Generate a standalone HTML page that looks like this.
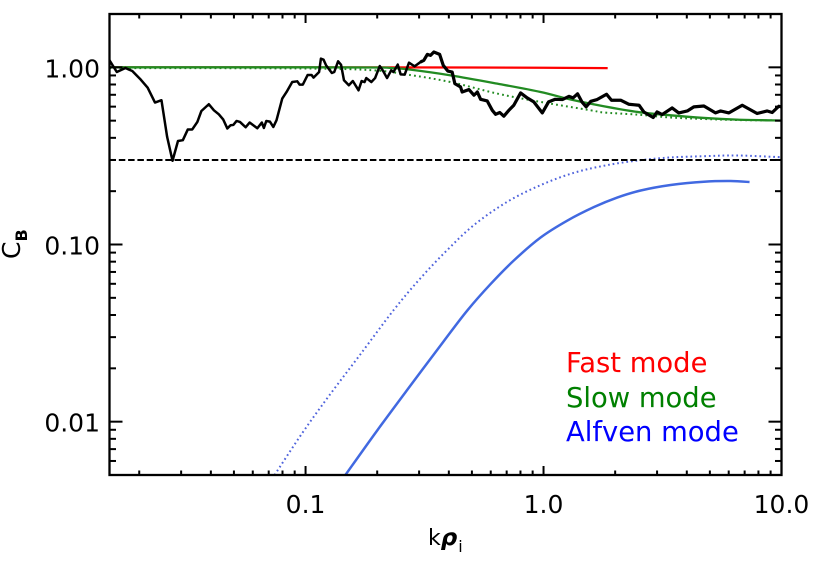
<!DOCTYPE html>
<html>
<head>
<meta charset="utf-8">
<title>C_B versus k rho_i</title>
<style>
html,body{margin:0;padding:0;background:#fff;width:830px;height:562px;overflow:hidden}
svg{display:block}
text{font-family:"DejaVu Sans","Liberation Sans",sans-serif;fill:#000}
</style>
</head>
<body>
<svg id="chart" width="830" height="562" viewBox="0 0 830 562" xmlns="http://www.w3.org/2000/svg">
<defs><clipPath id="plot-clip"><rect x="109.5" y="14" width="672" height="461"/></clipPath></defs>
<g id="series" clip-path="url(#plot-clip)"></g>
<g id="ticks"></g>
<rect x="109.5" y="14" width="672" height="461" fill="none" stroke="#000" stroke-width="2.3"/>
<g id="labels"></g>
<text x="428" y="545" font-size="22">k<tspan font-size="23" font-weight="bold" font-style="italic">ρ</tspan><tspan font-size="16" dy="7" dx="1">i</tspan></text>
<text transform="translate(20,259) rotate(-90)" font-size="25">C<tspan font-size="16" font-weight="bold" dy="7">B</tspan></text>
<text x="566" y="372" font-size="27.4" style="fill:#ff0000">Fast mode</text>
<text x="566" y="407" font-size="27.4" style="fill:#008000">Slow mode</text>
<text x="566" y="441" font-size="27.4" style="fill:#0000ff">Alfven mode</text>
</svg>
<script>
const xDomain = [0.015, 10];
const yDomain = [0.005, 2];
const xMajorTicks = [0.1, 1, 10];
const xMinorTicks = [0.02,0.03,0.04,0.05,0.06,0.07,0.08,0.09,0.2,0.3,0.4,0.5,0.6,0.7,0.8,0.9,2,3,4,5,6,7,8,9];
const yMajorTicks = [0.01, 0.1, 1];
const yMinorTicks = [0.006,0.007,0.008,0.009,0.02,0.03,0.04,0.05,0.06,0.07,0.08,0.09,0.2,0.3,0.4,0.5,0.6,0.7,0.8,0.9];
const xTickLabels = ["0.1", "1.0", "10.0"];
const yTickLabels = ["0.01", "0.10", "1.00"];
const thresholdValue = 0.3;

const measuredK = [0.015,0.0161,0.0175,0.0187,0.0203,0.0217,0.0233,0.0248,0.0262,0.0276,0.0291,0.0305,0.032,0.0334,0.0351,0.0365,0.0392,0.0412,0.0432,0.0451,0.0469,0.0484,0.0497,0.0513,0.053,0.056,0.0582,0.0603,0.0627,0.0655,0.0668,0.0684,0.0708,0.0732,0.0755,0.0798,0.0832,0.0879,0.0923,0.0944,0.0974,0.102,0.106,0.108,0.114,0.116,0.119,0.122,0.129,0.132,0.137,0.141,0.145,0.152,0.158,0.167,0.172,0.177,0.18,0.189,0.196,0.205,0.211,0.22,0.229,0.234,0.244,0.251,0.261,0.272,0.287,0.304,0.314,0.325,0.335,0.346,0.366,0.379,0.396,0.413,0.424,0.448,0.455,0.486,0.51,0.527,0.544,0.58,0.609,0.629,0.655,0.681,0.715,0.75,0.801,0.854,0.91,0.988,1.05,1.12,1.2,1.28,1.33,1.39,1.45,1.51,1.58,1.68,1.84,1.93,2.11,2.28,2.52,2.64,2.89,3.0,3.15,3.47,3.7,4.02,4.28,4.72,5.28,5.54,6.01,6.84,7.9,8.71,9.14,9.74,10];
const measuredC = [1.095,0.941,0.991,0.953,0.852,0.768,0.633,0.652,0.405,0.297,0.384,0.388,0.446,0.446,0.492,0.567,0.619,0.572,0.543,0.507,0.452,0.471,0.473,0.498,0.492,0.459,0.488,0.471,0.453,0.488,0.455,0.498,0.494,0.461,0.503,0.666,0.726,0.826,0.834,0.799,0.799,0.905,0.905,0.875,0.941,1.12,1.105,1.026,0.929,0.941,1.081,1.033,0.845,0.792,0.837,0.742,0.837,0.826,0.87,0.826,0.87,1.017,0.962,0.87,0.962,0.941,1.036,0.913,0.91,1.063,1.013,1.071,1.095,1.184,1.168,1.22,1.184,1.026,0.953,0.941,0.809,0.775,0.726,0.749,0.696,0.726,0.66,0.646,0.572,0.543,0.556,0.53,0.572,0.611,0.717,0.672,0.638,0.553,0.638,0.66,0.658,0.686,0.672,0.709,0.638,0.599,0.643,0.658,0.705,0.652,0.652,0.619,0.611,0.56,0.521,0.56,0.541,0.59,0.553,0.567,0.598,0.605,0.553,0.567,0.553,0.611,0.549,0.567,0.556,0.603,0.598];

const fastK = [0.015,0.1,0.5,1,1.86];
const fastC = [1.0,1.0,0.998,0.995,0.99];

const slowK = [0.015,0.1,0.2,0.232,0.268,0.407,0.639,0.972,1.3,1.79,2.48,3.42,4.72,6.52,10];
const slowC = [1.0,1.0,0.998,0.99,0.975,0.901,0.809,0.726,0.658,0.603,0.56,0.536,0.518,0.507,0.501];

const slowDottedK = [0.015,0.1,0.193,0.268,0.407,0.639,0.972,1.58,1.79,2.48,3.42,4.72,6.52,10];
const slowDottedC = [0.991,0.985,0.962,0.91,0.826,0.711,0.638,0.572,0.556,0.541,0.521,0.511,0.504,0.501];

const alfvenK = [0.147,0.2,0.276,0.381,0.478,0.599,0.75,0.972,1.26,1.63,2.04,2.56,3.42,4.72,6.11,7.34];
const alfvenC = [0.005,0.00892,0.016,0.0285,0.0424,0.0598,0.0812,0.1095,0.1365,0.1627,0.1841,0.2017,0.2166,0.2261,0.2281,0.2252];

const alfvenDottedK = [0.0741,0.0969,0.125,0.17,0.235,0.304,0.394,0.51,0.704,0.972,1.34,1.85,2.56,3.42,4.72,6.52,10];
const alfvenDottedC = [0.005,0.00863,0.0139,0.0240,0.0428,0.0645,0.0931,0.1288,0.1742,0.2164,0.2538,0.2805,0.2993,0.31,0.315,0.318,0.311];

const NS = 'http://www.w3.org/2000/svg';
const plotLeft = 109.5, plotRight = 781.5, plotTop = 14, plotBottom = 475;
function xPos(v){
  return plotLeft + (Math.log10(v) - Math.log10(xDomain[0])) / (Math.log10(xDomain[1]) - Math.log10(xDomain[0])) * (plotRight - plotLeft);
}
function yPos(v){
  return plotBottom - (Math.log10(v) - Math.log10(yDomain[0])) / (Math.log10(yDomain[1]) - Math.log10(yDomain[0])) * (plotBottom - plotTop);
}
function smoothPath(xs, ys){
  const p = xs.map((x, i) => [xPos(x), yPos(ys[i])]);
  let d = 'M' + p[0][0].toFixed(2) + ' ' + p[0][1].toFixed(2);
  for (let i = 0; i < p.length - 1; i++) {
    const a = p[Math.max(i - 1, 0)], b = p[i], c = p[i + 1], e = p[Math.min(i + 2, p.length - 1)];
    const c1x = b[0] + (c[0] - a[0]) / 6, c1y = b[1] + (c[1] - a[1]) / 6;
    const c2x = c[0] - (e[0] - b[0]) / 6, c2y = c[1] - (e[1] - b[1]) / 6;
    d += 'C' + c1x.toFixed(2) + ' ' + c1y.toFixed(2) + ' ' + c2x.toFixed(2) + ' ' + c2y.toFixed(2) + ' ' + c[0].toFixed(2) + ' ' + c[1].toFixed(2);
  }
  return d;
}
function polyPath(xs, ys){
  return xs.map((x, i) => (i ? 'L' : 'M') + xPos(x).toFixed(2) + ' ' + yPos(ys[i]).toFixed(2)).join('');
}
function makeLine(parent, d, color, width, dash){
  const el = document.createElementNS(NS, 'path');
  el.setAttribute('d', d);
  el.setAttribute('fill', 'none');
  el.setAttribute('stroke', color);
  el.setAttribute('stroke-width', width);
  el.setAttribute('stroke-linejoin', 'round');
  if (dash) el.setAttribute('stroke-dasharray', dash);
  parent.appendChild(el);
  return el;
}
function makeTick(x1, y1, x2, y2){
  const g = document.getElementById('ticks');
  const el = document.createElementNS(NS, 'line');
  el.setAttribute('x1', x1);
  el.setAttribute('y1', y1);
  el.setAttribute('x2', x2);
  el.setAttribute('y2', y2);
  el.setAttribute('stroke', '#000');
  el.setAttribute('stroke-width', '2');
  
  
  g.appendChild(el);
}
function makeLabel(str, x, y, anchor){
  const g = document.getElementById('labels');
  const el = document.createElementNS(NS, 'text');
  el.setAttribute('x', x);
  el.setAttribute('y', y);
  el.setAttribute('font-size', '25');
  el.setAttribute('text-anchor', anchor);
  
  
  el.textContent = str;
  g.appendChild(el);
}

const series = document.getElementById('series');

const fastLine = makeLine(series, polyPath(fastK, fastC), '#ff0000', 2.2);



const slowDotted = makeLine(series, smoothPath(slowDottedK, slowDottedC), '#228b22', 2, '1.8 3.2');



const slowLine = makeLine(series, smoothPath(slowK, slowC), '#228b22', 2.3);



const alfvenDotted = makeLine(series, smoothPath(alfvenDottedK, alfvenDottedC), '#4f63dc', 2, '1.7 2.9');



const alfvenLine = makeLine(series, smoothPath(alfvenK, alfvenC), '#4169e1', 2.5);



const thresholdLine = makeLine(series, polyPath(xDomain, [thresholdValue, thresholdValue]), '#000', 2, '6.5 2.8');



const measuredLine = makeLine(series, polyPath(measuredK, measuredC), '#000', 2.5);



const noisyStart = measuredK.findIndex(k => k >= 0.3);
const measuredHeavy = makeLine(series, polyPath(measuredK.slice(noisyStart), measuredC.slice(noisyStart)), '#000', 3.2);



xMajorTicks.forEach(v => {
  makeTick(xPos(v), plotBottom, xPos(v), plotBottom - 9);
  makeTick(xPos(v), plotTop, xPos(v), plotTop + 9);
});
xMinorTicks.forEach(v => {
  makeTick(xPos(v), plotBottom, xPos(v), plotBottom - 4.5);
  makeTick(xPos(v), plotTop, xPos(v), plotTop + 4.5);
});
yMajorTicks.forEach(v => {
  makeTick(plotLeft, yPos(v), plotLeft + 13, yPos(v));
  makeTick(plotRight, yPos(v), plotRight - 13, yPos(v));
});
yMinorTicks.forEach(v => {
  makeTick(plotLeft, yPos(v), plotLeft + 6.5, yPos(v));
  makeTick(plotRight, yPos(v), plotRight - 6.5, yPos(v));
});
xMajorTicks.forEach((v, i) => makeLabel(xTickLabels[i], xPos(v), 513, 'middle'));
yMajorTicks.forEach((v, i) => makeLabel(yTickLabels[i], 100, yPos(v) + 10, 'end'));
</script>
</body>
</html>
